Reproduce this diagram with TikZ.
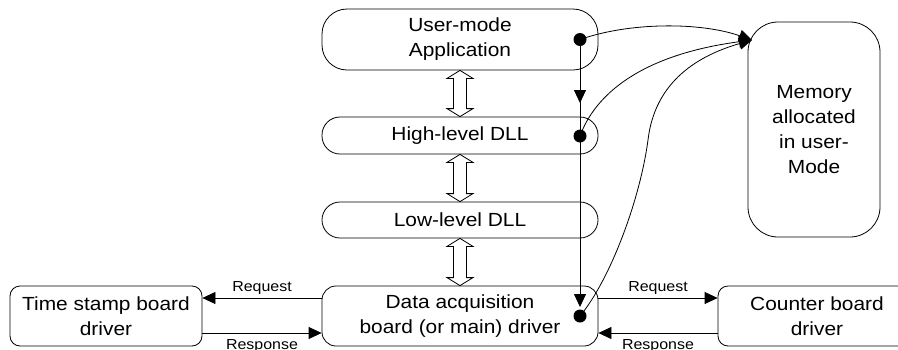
\documentclass[tikz,border=0pt]{standalone}
\usepackage{fontspec}
\setmainfont{Liberation Sans}[FakeStretch=1.1]
\usetikzlibrary{arrows.meta,calc}

\newcommand\labelfont{\fontsize{19}{25}\selectfont}
\newcommand\tagfont{\fontsize{14.5}{17}\selectfont}

% hollow double-headed arrow between the bottom of #1 and the top of #2
\newcommand\hollowlink[2]{%
  \draw[line width=0.8pt, fill=white]
    (#1.south) -- ($(#1.south)+(13,8)$) -- ($(#1.south)+(6.5,8)$)
    -- ($(#2.north)+(6.5,-8)$) -- ($(#2.north)+(13,-8)$) -- (#2.north)
    -- ($(#2.north)+(-13,-8)$) -- ($(#2.north)+(-6.5,-8)$)
    -- ($(#1.south)+(-6.5,8)$) -- ($(#1.south)+(-13,8)$) -- cycle;}

\begin{document}
\begin{tikzpicture}[x=1pt, y=-1pt,
  box/.style={draw, line width=0.8pt, rectangle, align=center,
              inner sep=0pt, font=\labelfont},
  tip/.style={-{Triangle[length=13pt,width=12pt]}},
  link/.style={line width=0.8pt, tip},
  dot/.style={circle, fill=black, inner sep=0pt, minimum size=13pt},
  tag/.style={font=\tagfont}]

\useasboundingbox (0,0) rectangle (898,349);

% software layers
\node[box, rounded corners=25pt, minimum width=276pt, minimum height=61pt]
  (app) at (460,39.5) {User-mode\\Application};
\node[box, rounded corners=18pt, minimum width=276pt, minimum height=37pt]
  (hdll) at (460,135.5) {High-level DLL};
\node[box, rounded corners=18pt, minimum width=276pt, minimum height=36pt]
  (ldll) at (460,220) {Low-level DLL};
\node[box, rounded corners=14pt, minimum width=276pt, minimum height=60pt]
  (daq) at (460,316) {Data acquisition\\board (or main) driver};

% side drivers
\node[box, rounded corners=10pt, minimum width=192pt, minimum height=60pt]
  (ts) at (106,316) {Time stamp board\\driver};
\node[box, rounded corners=10pt, minimum width=198pt, minimum height=60pt]
  (cnt) at (817,316) {Counter board\\driver};

% user memory
\node[box, rounded corners=30pt, minimum width=132pt, minimum height=215pt]
  (mem) at (814,129.5) {Memory\\allocated\\in user-\\Mode};

% calls between layers
\hollowlink{app}{hdll}
\hollowlink{hdll}{ldll}
\hollowlink{ldll}{daq}

% buffer pointer handed down the stack
\node[dot] (d1) at (580,39.5) {};
\node[dot] (d2) at (580,136) {};
\node[dot] (d3) at (580,316) {};
\coordinate (mid) at (580,103);
\coordinate (low) at (580,307);
\coordinate (memin) at (752,40);

\draw[line width=0.8pt, tip] (d1.center) -- (low);
\draw[line width=0.8pt, tip] (d1.center) -- (mid);

\draw[link] (d1.center) .. controls (630,22) and (700,22) .. (memin);
\draw[link] (d2.center) .. controls (595,95) and (640,55) .. (memin);
\draw[link] (d3.center) .. controls (610,280) and (640,200) .. (648,140)
                        .. controls (655,80) and (700,55) .. (memin);

% request / response exchanges
\draw[link] ([yshift=18pt]daq.west) -- ([yshift=18pt]ts.east)
  node[tag, midway, above=0pt] {Request};
\draw[link] ([yshift=-17pt]ts.east) -- ([yshift=-17pt]daq.west)
  node[tag, midway, below=3pt] {Response};
\draw[link] ([yshift=18pt]daq.east) -- ([yshift=18pt]cnt.west)
  node[tag, midway, above=0pt] {Request};
\draw[link] ([yshift=-17pt]cnt.west) -- ([yshift=-17pt]daq.east)
  node[tag, midway, below=3pt] {Response};

\end{tikzpicture}
\end{document}
